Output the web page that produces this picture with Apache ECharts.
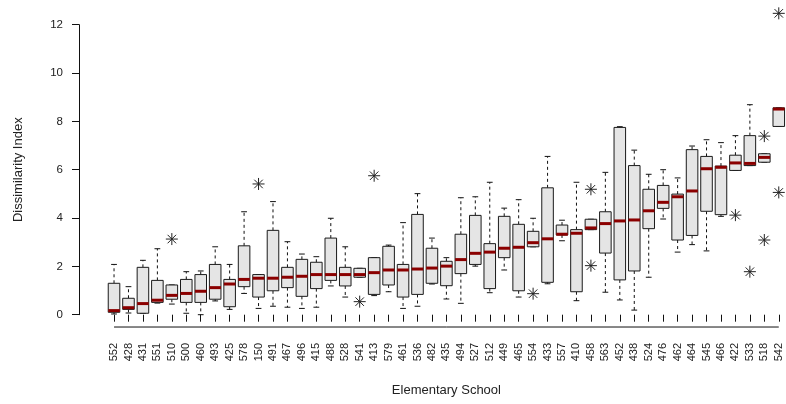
<!DOCTYPE html>
<html>
<head>
<meta charset="utf-8">
<script src="https://cdn.jsdelivr.net/npm/echarts@6/dist/echarts.min.js"></script>
<style>
html,body{margin:0;padding:0;background:#fff;}
#chart{width:786px;height:404px;}
</style>
</head>
<body>
<div id="chart"></div>
<script>
const categories = ['552','428','431','551','510','500','460','493','425','578',
  '150','491','467','496','415','488','528','541','413','579',
  '461','536','482','435','494','527','512','449','465','554',
  '433','557','410','458','563','452','438','524','476','462',
  '464','545','466','422','533','518','542'];
const whiskerLow = [0.03,0.07,0.06,0.48,0.44,0.06,0.00,0.57,0.22,0.88,
  0.26,0.35,0.31,0.26,0.31,1.19,0.73,1.55,0.79,0.95,
  0.26,0.35,1.27,0.65,0.47,2.01,0.91,1.85,0.73,2.81,
  1.28,3.06,0.58,3.52,0.93,0.61,0.19,1.55,3.96,2.59,
  2.90,2.64,4.07,5.97,6.17,6.31,7.79];
const quart1 = [0.10,0.22,0.06,0.51,0.64,0.51,0.51,0.64,0.33,1.16,
  0.73,0.99,1.12,0.76,1.08,1.42,1.19,1.55,0.84,1.23,
  0.73,0.84,1.30,1.20,1.70,2.08,1.08,2.36,0.99,2.81,
  1.34,3.30,0.95,3.52,2.55,1.44,1.81,3.56,4.40,3.09,
  3.28,4.28,4.14,5.97,6.17,6.31,7.79];
const medians = [0.17,0.29,0.46,0.60,0.80,0.88,0.97,1.12,1.27,1.46,
  1.51,1.51,1.55,1.59,1.66,1.66,1.66,1.66,1.74,1.85,
  1.85,1.89,1.93,2.01,2.28,2.54,2.59,2.75,2.79,2.98,
  3.14,3.33,3.37,3.59,3.77,3.88,3.92,4.30,4.65,4.88,
  5.12,6.04,6.10,6.28,6.26,6.51,8.51];
const quart3 = [1.30,0.68,1.96,1.42,1.23,1.46,1.66,2.08,1.46,2.85,
  1.66,3.49,1.96,2.29,2.17,3.17,1.96,1.92,2.36,2.83,
  2.08,4.15,2.75,2.21,3.33,4.11,2.94,4.07,3.74,3.45,
  5.25,3.71,3.52,3.95,4.26,7.75,6.17,5.19,5.35,4.99,
  6.83,6.55,6.15,6.60,7.41,6.66,8.56];
const whiskerHigh = [2.08,1.16,2.25,2.73,1.23,1.78,1.81,2.81,2.08,4.26,
  1.66,4.68,3.02,2.51,2.40,3.99,2.81,1.92,2.36,2.88,
  3.81,5.01,3.17,2.36,4.84,4.88,5.48,4.41,4.76,3.99,
  6.55,3.91,5.48,3.95,5.89,7.78,6.81,5.81,6.00,5.66,
  6.98,7.24,7.12,7.41,8.69,6.66,8.56];
const outlierSchools = ['510','150','541','413','554','458','458','422','533','518','518','542','542'];
const outlierValues  = [3.13, 5.41, 0.54, 5.75, 0.87, 5.19, 2.03, 4.12, 1.78, 7.39, 3.09, 12.47, 5.06];
const yTicks = [0, 2, 4, 6, 8, 10, 12];

const boxData = categories.map((c, i) =>
  [i, whiskerLow[i], quart1[i], medians[i], quart3[i], whiskerHigh[i]]);
const outlierData = outlierSchools.map((s, k) => [categories.indexOf(s), outlierValues[k]]);

const TXT = '#222';
const FONT = 'Liberation Sans, Arial, sans-serif';

const chart = echarts.init(document.getElementById('chart'), null, {renderer: 'canvas'});

function renderBox(params, api) {
  const i = api.value(0);
  const band = api.size([1, 0])[0];
  const hb = band * 0.4, hs = band * 0.2;
  const x = api.coord([i, 0])[0];
  const yLo = api.coord([i, api.value(1)])[1];
  const yQ1 = api.coord([i, api.value(2)])[1];
  const yMd = api.coord([i, api.value(3)])[1];
  const yQ3 = api.coord([i, api.value(4)])[1];
  const yHi = api.coord([i, api.value(5)])[1];
  const dash = {stroke: '#111', lineWidth: 1, lineDash: [3, 3]};
  const solid = {stroke: '#111', lineWidth: 1};
  return {
    type: 'group',
    children: [
      {type: 'line', shape: {x1: x, y1: yQ3, x2: x, y2: yHi}, style: dash},
      {type: 'line', shape: {x1: x, y1: yQ1, x2: x, y2: yLo}, style: dash},
      {type: 'line', shape: {x1: x - hs, y1: yHi, x2: x + hs, y2: yHi}, style: solid},
      {type: 'line', shape: {x1: x - hs, y1: yLo, x2: x + hs, y2: yLo}, style: solid},
      {type: 'rect', shape: {x: x - hb, y: yQ3, width: 2 * hb, height: yQ1 - yQ3},
        style: {fill: '#e5e5e5', stroke: '#1a1a1a', lineWidth: 1}},
      {type: 'line', shape: {x1: x - hb, y1: yMd, x2: x + hb, y2: yMd},
        style: {stroke: '#8b0000', lineWidth: 3}}
    ]
  };
}

function renderStar(params, api) {
  const p = api.coord([api.value(0), api.value(1)]);
  const r = 6, d = r / Math.SQRT2;
  const st = {stroke: '#222', lineWidth: 1};
  return {
    type: 'group',
    children: [
      {type: 'line', shape: {x1: p[0] - r, y1: p[1], x2: p[0] + r, y2: p[1]}, style: st},
      {type: 'line', shape: {x1: p[0], y1: p[1] - r, x2: p[0], y2: p[1] + r}, style: st},
      {type: 'line', shape: {x1: p[0] - d, y1: p[1] - d, x2: p[0] + d, y2: p[1] + d}, style: st},
      {type: 'line', shape: {x1: p[0] - d, y1: p[1] + d, x2: p[0] + d, y2: p[1] - d}, style: st}
    ]
  };
}

const option = {
  animation: false,
  backgroundColor: '#fff',
  textStyle: {fontFamily: FONT},
  grid: {left: 106.8, top: 24.7, width: 679.4, bottom: 89.3, containLabel: false},
  xAxis: {
    type: 'category',
    data: categories,
    offset: 12.2,
    name: 'Elementary School',
    nameLocation: 'middle',
    nameGap: 57,
    nameTextStyle: {color: TXT, fontSize: 13, fontFamily: FONT},
    axisLine: {show: false},
    axisTick: {show: true, alignWithLabel: true, length: 7, lineStyle: {color: '#111', width: 1}},
    axisLabel: {interval: 0, rotate: 90, fontSize: 11, margin: 16, color: TXT, fontFamily: FONT},
    splitLine: {show: false}
  },
  yAxis: {
    type: 'value',
    min: 0,
    max: 12,
    interval: 2,
    offset: 27.8,
    name: 'Dissimilarity Index',
    nameLocation: 'middle',
    nameGap: 54,
    nameTextStyle: {color: TXT, fontSize: 13, fontFamily: FONT},
    axisLine: {show: true, lineStyle: {color: '#111', width: 1}},
    axisTick: {show: true, length: 7, lineStyle: {color: '#111', width: 1}, customValues: yTicks},
    axisLabel: {fontSize: 11.5, margin: 16, color: TXT, fontFamily: FONT, customValues: yTicks},
    splitLine: {show: false}
  },
  series: [
    {type: 'custom', name: 'boxes', renderItem: renderBox, data: boxData,
      encode: {x: 0, y: [1, 2, 3, 4, 5]}, clip: false, z: 2},
    {type: 'custom', name: 'outliers', renderItem: renderStar, data: outlierData,
      encode: {x: 0, y: 1}, clip: false, z: 3},
    {type: 'line', name: 'xline', data: [[0, -0.51], [categories.length - 1, -0.51]],
      symbol: 'none', silent: true, clip: false,
      lineStyle: {color: '#111', width: 1}, z: 1}
  ]
};
chart.setOption(option);
</script>
</body>
</html>
